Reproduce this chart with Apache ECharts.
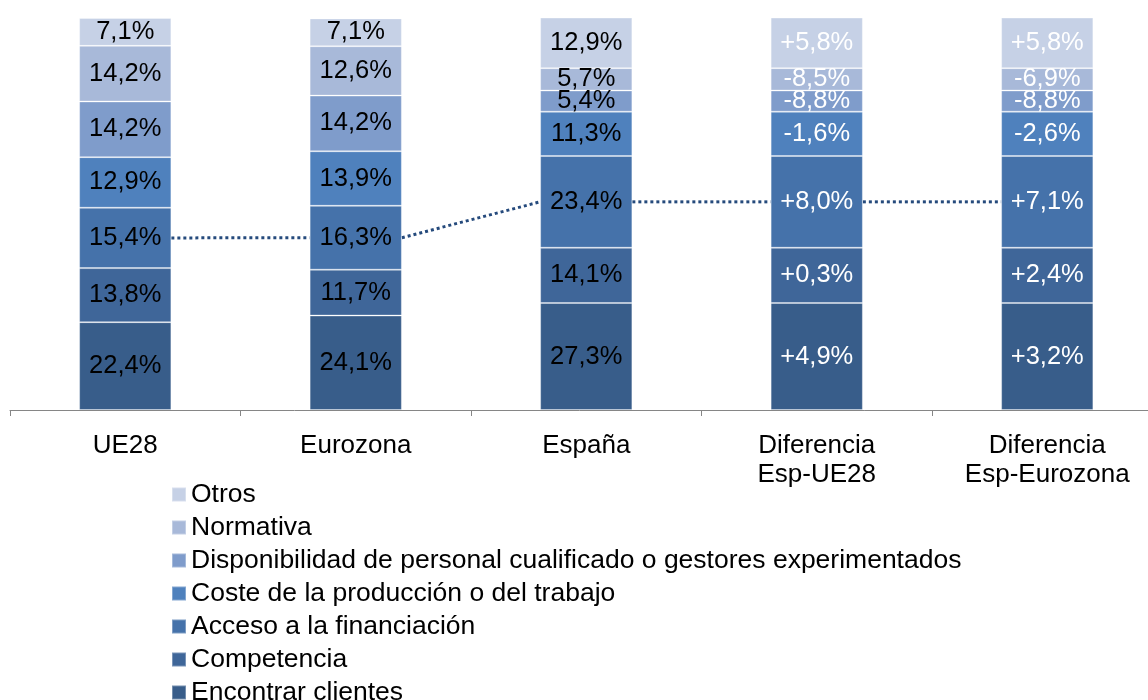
<!DOCTYPE html>
<html>
<head>
<meta charset="utf-8">
<script src="https://cdn.jsdelivr.net/npm/echarts@6/dist/echarts.min.js"></script>
<style>
  html, body { margin: 0; padding: 0; background: #fff; }
  #chart { width: 1148px; height: 700px; }
</style>
</head>
<body>
<div id="chart"></div>
<script>
// columnas del eje x
const categorias = ['UE28', 'Eurozona', 'España', 'Diferencia\nEsp-UE28', 'Diferencia\nEsp-Eurozona'];

// factores (de abajo a arriba en la pila)
const factores = [
  'Encontrar clientes',
  'Competencia',
  'Acceso a la financiación',
  'Coste de la producción o del trabajo',
  'Disponibilidad de personal cualificado o gestores experimentados',
  'Normativa',
  'Otros'
];

// porcentajes por columna, mismo orden que factores
const ue28 = [22.4, 13.8, 15.4, 12.9, 14.2, 14.2, 7.1];
const eurozona = [24.1, 11.7, 16.3, 13.9, 14.2, 12.6, 7.1];
const espana = [27.3, 14.1, 23.4, 11.3, 5.4, 5.7, 12.9];
// diferencias que se muestran sobre las columnas de España
const difUe28 = [4.9, 0.3, 8.0, -1.6, -8.8, -8.5, 5.8];
const difEurozona = [3.2, 2.4, 7.1, -2.6, -8.8, -6.9, 5.8];

const colores = ['#385d8a', '#3f6699', '#4572aa', '#4f81bd', '#7f9ccb', '#a8b9d9', '#c6d1e6'];

const fuente = '"Liberation Sans", Arial, sans-serif';

const fmt = v => v.toFixed(1).replace('.', ',') + '%';
const fmtSigno = v => (v > 0 ? '+' : '') + fmt(v);

const chart = echarts.init(document.getElementById('chart'));

const series = factores.map((nombre, i) => ({
  name: nombre,
  type: 'bar',
  stack: 'total',
  barWidth: '40%',
  z: 3,
  itemStyle: {
    color: colores[i],
    borderColor: 'rgba(255,255,255,0.3)',
    borderWidth: 1
  },
  emphasis: { disabled: true },
  data: [
    { value: ue28[i], label: { formatter: fmt(ue28[i]), color: '#000' } },
    { value: eurozona[i], label: { formatter: fmt(eurozona[i]), color: '#000' } },
    { value: espana[i], label: { formatter: fmt(espana[i]), color: '#000' } },
    { value: espana[i], label: { formatter: fmtSigno(difUe28[i]), color: '#fff' } },
    { value: espana[i], label: { formatter: fmtSigno(difEurozona[i]), color: '#fff' } }
  ],
  label: {
    show: true,
    position: 'inside',
    fontFamily: fuente,
    fontSize: 25.5
  }
}));

// punto medio del segmento "Acceso a la financiación" en cada columna
const columnas = [ue28, eurozona, espana, espana, espana];
const medios = columnas.map(c => c[0] + c[1] + c[2] / 2);
const tramos = [];
for (let k = 0; k < medios.length - 1; k++) {
  tramos.push([k, medios[k], medios[k + 1]]);
}

series.push({
  type: 'custom',
  name: 'linea',
  z: 1,
  silent: true,
  renderItem: function (params, api) {
    const k = api.value(0);
    const a = api.coord([k, api.value(1)]);
    const b = api.coord([k + 1, api.value(2)]);
    const medio = api.size([1, 0])[0] * 0.4 / 2;
    return {
      type: 'line',
      shape: { x1: a[0] + medio, y1: a[1], x2: b[0] - medio, y2: b[1] },
      style: { stroke: '#254a7c', lineWidth: 3, lineDash: [3, 3] }
    };
  },
  data: tramos
});

chart.setOption({
  animation: false,
  grid: { left: 10, right: -14.5, top: 18, bottom: 290, outerBoundsMode: 'none' },
  legend: {
    orient: 'vertical',
    left: 171,
    top: 481,
    height: 300,
    padding: 0,
    icon: 'rect',
    itemWidth: 14,
    itemHeight: 14,
    itemGap: 6,
    selectedMode: false,
    data: factores.slice().reverse(),
    textStyle: { fontFamily: fuente, fontSize: 26.5, color: '#000', lineHeight: 24 }
  },
  xAxis: {
    type: 'category',
    data: categorias,
    axisLine: { lineStyle: { color: '#868686', width: 1 } },
    axisTick: { show: true, length: 6, lineStyle: { color: '#868686' } },
    axisLabel: {
      fontFamily: fuente,
      fontSize: 26,
      color: '#000',
      lineHeight: 29,
      margin: 21,
      interval: 0
    }
  },
  yAxis: {
    type: 'value',
    min: 0,
    max: 100,
    show: false,
    splitLine: { show: false }
  },
  series: series
});
</script>
</body>
</html>
